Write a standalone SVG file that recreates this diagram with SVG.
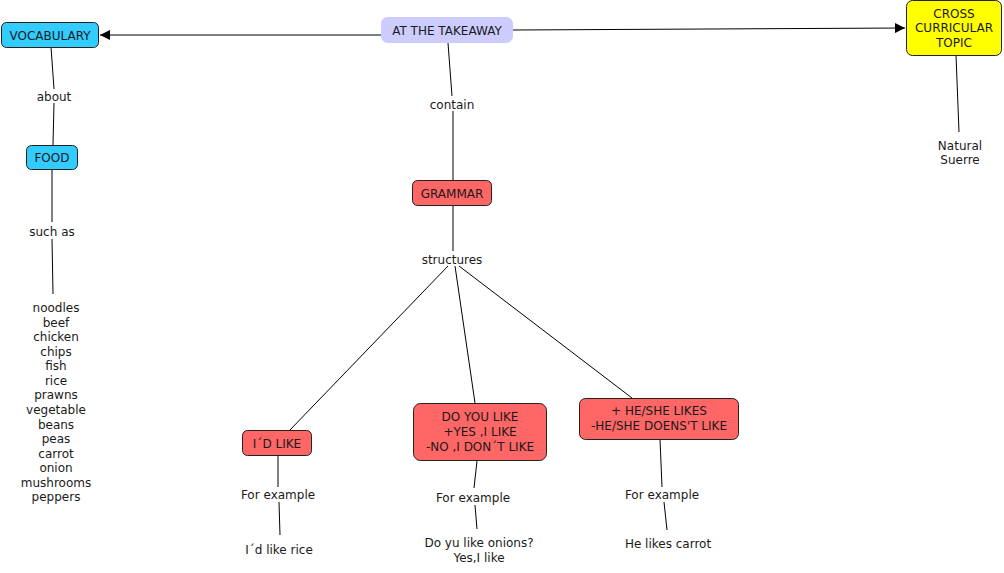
<svg xmlns="http://www.w3.org/2000/svg" width="1004" height="573" viewBox="0 0 1004 573">
<style>
text{font-family:"DejaVu Sans","Verdana",sans-serif;font-size:12px;fill:#1a1a1a;text-anchor:middle}
.n{stroke:#222;stroke-width:1}
.c{stroke:#000;stroke-width:1;fill:none}
.blue{fill:#33CCFF}
.red{fill:#FF6666}
.yel{fill:#FFFF00}
.lav{fill:#CCCCFF;stroke:#CCCCFF}
</style>
<defs>
<marker id="ar" viewBox="0 0 10 10" refX="10" refY="5" markerWidth="10" markerHeight="10" markerUnits="userSpaceOnUse" orient="auto">
<path d="M0,0L10,5L0,10z" fill="#000"/>
</marker>
</defs>
<rect width="1004" height="573" fill="#fff"/>
<g id="connectors">
<line class="c" x1="381" y1="35" x2="100" y2="35" marker-end="url(#ar)"/>
<line class="c" x1="512" y1="30" x2="905" y2="28" marker-end="url(#ar)"/>
<line class="c" x1="956" y1="55" x2="959" y2="132"/>
<line class="c" x1="51" y1="47" x2="54" y2="89"/>
<line class="c" x1="54" y1="103" x2="53" y2="145"/>
<line class="c" x1="52" y1="170" x2="52" y2="222"/>
<line class="c" x1="52" y1="239" x2="53" y2="294"/>
<line class="c" x1="448" y1="43" x2="452" y2="96"/>
<line class="c" x1="453" y1="111" x2="453" y2="181"/>
<line class="c" x1="453" y1="206" x2="453" y2="251"/>
<line class="c" x1="448" y1="266" x2="289" y2="431"/>
<line class="c" x1="455" y1="266" x2="475" y2="403"/>
<line class="c" x1="459" y1="266" x2="632" y2="398"/>
<line class="c" x1="278" y1="455" x2="278" y2="487"/>
<line class="c" x1="279" y1="502" x2="280" y2="535"/>
<line class="c" x1="477" y1="461" x2="474" y2="488"/>
<line class="c" x1="475" y1="505" x2="477" y2="529"/>
<line class="c" x1="660" y1="439" x2="662" y2="487"/>
<line class="c" x1="664" y1="502" x2="667" y2="530"/>
</g>
<g id="takeaway"><rect class="lav" x="381.5" y="17.5" width="131" height="25" rx="6"/><text x="447" y="35">AT THE TAKEAWAY</text></g>
<g id="vocabulary"><rect class="n blue" x="1.5" y="22.5" width="97" height="25" rx="5"/><text x="50" y="40">VOCABULARY</text></g>
<g id="cross"><rect class="n yel" x="906.5" y="0.5" width="95" height="55" rx="6"/><text x="954" y="18">CROSS</text><text x="954" y="32">CURRICULAR</text><text x="954" y="47">TOPIC</text></g>
<g id="natural"><text x="960" y="150">Natural</text><text x="960" y="164">Suerre</text></g>
<g id="about"><text x="54" y="101">about</text></g>
<g id="food"><rect class="n blue" x="26.5" y="145.5" width="51" height="24" rx="5"/><text x="52" y="162">FOOD</text></g>
<g id="suchas"><text x="52" y="236">such as</text></g>
<g id="foodlist">
<text x="56" y="312">noodles</text>
<text x="56" y="327">beef</text>
<text x="56" y="341">chicken</text>
<text x="56" y="356">chips</text>
<text x="56" y="370">fish</text>
<text x="56" y="385">rice</text>
<text x="56" y="399">prawns</text>
<text x="56" y="414">vegetable</text>
<text x="56" y="429">beans</text>
<text x="56" y="443">peas</text>
<text x="56" y="458">carrot</text>
<text x="56" y="472">onion</text>
<text x="56" y="487">mushrooms</text>
<text x="56" y="501">peppers</text>
</g>
<g id="contain"><text x="452" y="109">contain</text></g>
<g id="grammar"><rect class="n red" x="412.5" y="180.5" width="79" height="25" rx="5"/><text x="452" y="198">GRAMMAR</text></g>
<g id="structures"><text x="452" y="264">structures</text></g>
<g id="idlike"><rect class="n red" x="242.5" y="430.5" width="69" height="25" rx="5"/><text x="277" y="448">I´D LIKE</text></g>
<g id="doyoulike"><rect class="n red" x="413.5" y="403.5" width="133" height="57" rx="7"/><text x="480" y="421">DO YOU LIKE</text><text x="480" y="436">+YES ,I LIKE</text><text x="480" y="451">-NO ,I DON´T LIKE</text></g>
<g id="heshe"><rect class="n red" x="579.5" y="398.5" width="159" height="41" rx="6"/><text x="659" y="415">+ HE/SHE LIKES</text><text x="659" y="430">-HE/SHE DOENS'T LIKE</text></g>
<g id="fe1"><text x="278" y="499">For example</text></g>
<g id="fe2"><text x="473" y="502">For example</text></g>
<g id="fe3"><text x="662" y="499">For example</text></g>
<g id="ex1"><text x="279" y="554">I´d like rice</text></g>
<g id="ex2"><text x="479" y="547">Do yu like onions?</text><text x="479" y="562">Yes,I like</text></g>
<g id="ex3"><text x="668" y="548">He likes carrot</text></g>
</svg>
